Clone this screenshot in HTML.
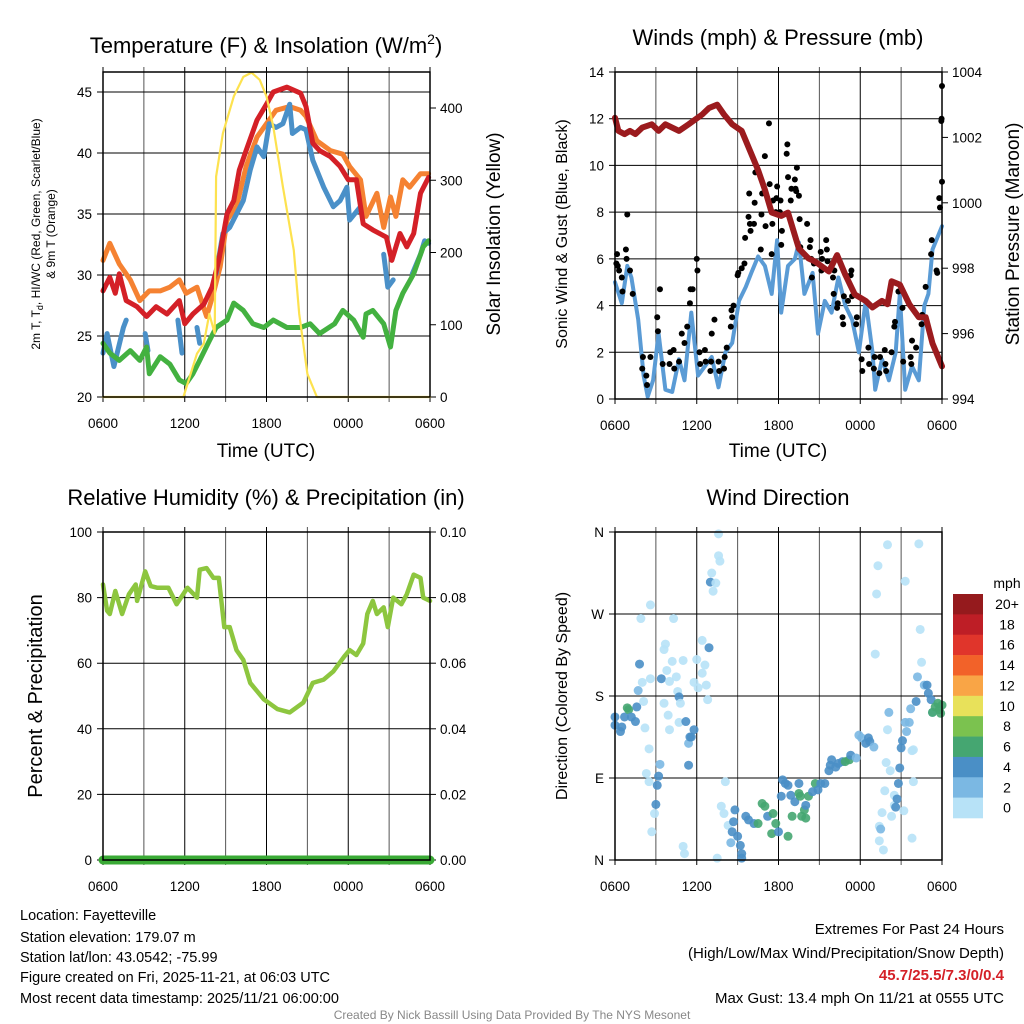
<!DOCTYPE html>
<html><head><meta charset="utf-8"><title>Mesonet Meteogram</title>
<style>
html,body{margin:0;padding:0;background:#fff;}
svg{display:block;font-family:"Liberation Sans",Arial,sans-serif;}
</style></head>
<body>
<svg id="chart" width="1024" height="1024" viewBox="0 0 1024 1024" xmlns="http://www.w3.org/2000/svg">
<rect width="1024" height="1024" fill="#fff"/>
<g id="p1"></g>
<g id="p2"></g>
<g id="p3"></g>
<g id="p4"></g>

<text x="266" y="53" font-size="22" text-anchor="middle">Temperature (F) &amp; Insolation (W/m<tspan dy="-9" font-size="14">2</tspan><tspan dy="9">)</tspan></text>
<text x="778" y="45" font-size="22" text-anchor="middle">Winds (mph) &amp; Pressure (mb)</text>
<text x="266" y="505" font-size="22" text-anchor="middle">Relative Humidity (%) &amp; Precipitation (in)</text>
<text x="778" y="505" font-size="22" text-anchor="middle">Wind Direction</text>

<text x="266" y="457" font-size="19" text-anchor="middle">Time (UTC)</text>
<text x="778" y="457" font-size="19" text-anchor="middle">Time (UTC)</text>

<text transform="translate(40,234) rotate(-90)" font-size="12" text-anchor="middle">2m T, T<tspan dy="3" font-size="9">d</tspan><tspan dy="-3">, HI/WC (Red, Green, Scarlet/Blue)</tspan></text>
<text transform="translate(55,234) rotate(-90)" font-size="12" text-anchor="middle">&amp; 9m T (Orange)</text>
<text transform="translate(500,234) rotate(-90)" font-size="19" text-anchor="middle">Solar Insolation (Yellow)</text>
<text transform="translate(567,234) rotate(-90)" font-size="16" text-anchor="middle">Sonic Wind &amp; Gust (Blue, Black)</text>
<text transform="translate(1019,234) rotate(-90)" font-size="19" text-anchor="middle">Station Pressure (Maroon)</text>
<text transform="translate(42,696) rotate(-90)" font-size="20" text-anchor="middle">Percent &amp; Precipitation</text>
<text transform="translate(567,696) rotate(-90)" font-size="16" text-anchor="middle">Direction (Colored By Speed)</text>

<g font-size="14.5">
<text x="20" y="920">Location: Fayetteville</text>
<text x="20" y="942">Station elevation: 179.07 m</text>
<text x="20" y="962">Station lat/lon: 43.0542; -75.99</text>
<text x="20" y="982">Figure created on Fri, 2025-11-21, at 06:03 UTC</text>
<text x="20" y="1003">Most recent data timestamp: 2025/11/21 06:00:00</text>
</g>
<g font-size="15" text-anchor="end">
<text x="1004" y="934">Extremes For Past 24 Hours</text>
<text x="1004" y="958">(High/Low/Max Wind/Precipitation/Snow Depth)</text>
<text x="1004" y="980" fill="#d42027" font-weight="bold">45.7/25.5/7.3/0/0.4</text>
<text x="1004" y="1003">Max Gust: 13.4 mph On 11/21 at 0555 UTC</text>
</g>
<text x="512" y="1019" font-size="12" fill="#888" text-anchor="middle">Created By Nick Bassill Using Data Provided By The NYS Mesonet</text>
</svg>
<script>
// ---- data (hours since 0600 UTC) ----
const xTickLabels = ["0600","1200","1800","0000","0600"];
const redT = [[0,28.7],[0.5,29.8],[0.9,28.5],[1.2,30.1],[1.7,27.9],[2.5,27.4],[3.2,26.6],[3.9,27.4],[4.7,26.8],[5.6,27.9],[6,26],[6.6,26.8],[7.4,27.6],[8,29],[8.5,31.2],[9.1,35],[9.6,36.1],[10,38.6],[10.5,40.2],[11.3,42.7],[12,44],[12.5,45],[13.5,45.4],[14.5,44.9],[14.9,43.8],[15.4,40.8],[15.9,40.2],[16.7,39.7],[17.4,38.9],[18,37.8],[18.6,37.8],[19.1,34.2],[19.8,33.7],[20.8,33.1],[21.2,31.2],[21.8,33.4],[22.3,32.3],[22.8,33.4],[23.3,36.7],[23.9,38]];
const orangeT = [[0,31.2],[0.5,32.6],[1.2,30.9],[2,29.6],[2.7,27.9],[3.4,28.7],[4.2,28.7],[4.9,29],[5.6,29.6],[6.1,28.5],[6.9,29],[7.6,26.6],[8.1,28.5],[8.6,30.7],[9.1,34.5],[9.8,35.6],[10.5,38.9],[11.3,41.3],[12,42.4],[12.7,43.5],[13.7,43.8],[14.5,43.5],[14.9,43],[15.7,41],[16.7,40.2],[17.6,39.9],[18.1,38.9],[18.9,37.8],[19.3,34.8],[20.1,36.7],[20.6,33.9],[21.1,36.4],[21.5,34.8],[22,37.8],[22.5,37.2],[23.3,38.3],[23.9,38.3]];
const blueT = [[0,23.6],[0.3,25.2],[0.8,22.5],[1.5,25.7],[1.7,26.3],null,[3.1,25.2],[3.3,23.8],null,[5.5,26.3],[5.8,23.6],null,[6.9,25.7],[7.1,24.4],null,[8.3,30.1],[8.8,33.4],[9.3,33.9],[9.8,35],[10.3,36.1],[10.8,38.6],[11.3,40.5],[11.8,39.7],[12.2,42.4],[12.7,42.1],[13.2,42.4],[13.7,44],[13.9,41.6],[14.5,42.1],[14.9,41.9],[15.4,39.4],[16.2,37.2],[16.9,35.6],[17.4,36.1],[17.9,37.2],[18.1,34.5],[18.9,35.6],null,[20.6,31.7],[20.9,29],[21.3,29.6],null,[22.7,30.1],[23.3,31.7],[23.6,32.8],[23.9,32.6]];
const greenTd = [[0,24.4],[0.5,23.6],[1.2,23],[2,23.8],[2.7,23],[3.2,24.1],[3.4,21.9],[4.2,23.3],[4.9,22.7],[5.6,21.4],[6.1,21.1],[6.6,21.9],[7.1,23],[7.8,24.6],[8.3,25.7],[9.1,26.3],[9.6,27.7],[10.3,27.1],[11,26],[11.8,25.7],[12.5,26.3],[13.5,25.7],[14.5,25.7],[15.2,26],[15.9,25.2],[17,26],[17.6,27.1],[18.4,26.3],[19.1,24.9],[19.3,26.8],[19.8,27.1],[20.6,26],[21.1,24.1],[21.5,27.1],[22,28.5],[22.8,30.1],[23.5,32.3],[23.9,32.8]];
const solar = [[0,0],[5.9,0],[6.9,60],[7.4,74],[7.8,115],[8.2,88],[8.3,305],[8.8,365],[9.6,416],[10.3,443],[10.9,449],[11.5,439],[12,416],[12.5,374],[13.2,291],[14,203],[14.4,115],[15,32],[15.7,0],[24,0]];
const tempTicks = [20,25,30,35,40,45];
const solarTicks = [0,100,200,300,400];

const windSpeed = [[0,5],[0.5,4.1],[0.9,5.7],[1.2,5.2],[1.7,3.4],[2.1,1],[2.4,0.1],[2.8,0.8],[3.2,2.8],[3.7,0.4],[4.2,0.3],[4.7,1.7],[5.1,0.8],[5.6,3.7],[6.1,1],[6.6,1.4],[7.1,1.8],[7.6,0.5],[8.1,2],[8.6,2.4],[9.1,4.2],[9.6,4.8],[10,5.4],[10.5,6.1],[11,5.7],[11.5,4.5],[11.9,6.8],[12.2,3.7],[12.7,5.7],[13.2,6],[13.5,6.7],[13.9,4.5],[14.5,5.4],[14.9,2.8],[15.4,4.2],[15.9,3.7],[16.4,5.2],[16.9,4],[17.4,3.4],[17.9,2],[18.4,4.2],[18.9,2],[19.1,0.4],[19.6,1.7],[20.1,0.8],[20.6,2],[20.9,4.5],[21.3,0.4],[21.8,1.4],[22.3,0.8],[22.7,4],[23,4.5],[23.3,6.4],[24,7.4]];
const gusts = [[0.1,5.8],[0.15,6.2],[0.2,5.7],[0.3,5.5],[0.5,5.2],[0.55,4.6],[0.9,7.9],[0.8,6.4],[0.85,6.0],[1.1,5.5],[1.3,4.5],[2,1.3],[2.05,1.8],[2.3,1.0],[2.35,0.6],[2.6,1.8],[3.1,3.5],[3.15,2.9],[3.3,4.7],[3.5,1.5],[4,1.5],[4.05,2],[4.3,2.1],[4.35,1.3],[4.7,1.6],[4.9,2.8],[5.1,2.4],[5.3,3.1],[5.5,4.1],[5.55,4.7],[5.7,4.7],[6.0,6.0],[6.05,5.5],[6.2,2],[6.25,1.5],[6.6,2.1],[6.65,1.6],[7,1.2],[7.05,1.6],[7.1,2.8],[7.3,3.4],[7.6,1.6],[7.65,1.2],[8,1.3],[8.05,1.8],[8.2,2.2],[8.5,3.1],[8.55,3.8],[8.6,3.5],[8.7,4.0],[9.0,5.3],[9.05,5.4],[9.3,5.6],[9.5,5.8],[9.55,6.9],[9.8,7.8],[9.85,8.8],[9.9,7.5],[9.95,7.2],[10.2,7.5],[10.25,8.4],[10.3,9.7],[10.7,6.4],[10.75,7.9],[10.8,8.8],[11,10.4],[11.05,7.4],[11.3,11.8],[11.35,9.2],[11.5,6.2],[11.55,7.5],[11.6,8.5],[11.8,8.0],[11.85,8.6],[11.9,9.1],[12.1,8.0],[12.15,8.5],[12.2,6.6],[12.25,7.2],[12.6,10.5],[12.65,10.9],[12.7,9.5],[12.9,8.5],[12.95,9.0],[13.2,9.4],[13.25,9.0],[13.3,8.9],[13.35,9.9],[13.5,8.7],[13.55,7.7],[13.6,6.5],[14.1,7.5],[14.3,6.5],[14.35,6.8],[14.4,6.0],[14.45,5.2],[14.6,5.8],[15.1,6.3],[15.15,5.5],[15.2,6.0],[15.5,6.8],[15.55,6.4],[15.6,5.9],[16,5.2],[16.05,4.5],[16.1,5.5],[16.3,3.9],[16.35,4.1],[16.7,3.5],[16.75,3.2],[16.8,4.4],[17.1,4.2],[17.3,5.3],[17.35,5.5],[17.4,4.4],[17.7,3.2],[17.75,3.5],[18.1,1.7],[18.15,1.2],[18.6,2.2],[18.65,1.5],[19,1.3],[19.05,1.8],[19.4,1.1],[19.45,1.8],[19.8,2.1],[19.85,1.5],[19.9,1.2],[20.3,2.0],[20.5,3.1],[20.55,3.3],[20.8,4.6],[21.1,3.9],[21.15,1.6],[21.7,1.8],[21.75,1.5],[21.8,2.5],[22.1,2.2],[22.5,3.2],[22.55,3.6],[22.8,4.8],[23.2,6.2],[23.25,6.8],[23.6,5.5],[23.65,5.4],[23.8,8.6],[23.85,8.2],[24,9.3],[23.95,11.9],[24,13.4],[23.97,12.0]];
const pressure = [[0,1002.6],[0.25,1002.2],[0.7,1002.1],[1.1,1002.2],[1.5,1002.1],[2,1002.3],[2.7,1002.4],[3.2,1002.2],[3.7,1002.4],[4.7,1002.2],[5.4,1002.4],[6.4,1002.7],[6.9,1002.9],[7.5,1003.0],[8,1002.7],[8.6,1002.4],[9.3,1002.2],[10,1001.5],[10.5,1001],[11,1000.4],[11.5,999.7],[12.2,999.6],[12.7,999.7],[13.5,998.6],[14.2,998.3],[14.7,998.2],[15.7,997.9],[16.3,998.4],[16.9,997.8],[17.6,997.2],[18.4,997.0],[18.9,996.8],[19.6,997],[20,996.9],[20.3,997.6],[20.9,997.5],[21.6,996.9],[22.3,996.5],[22.8,996.5],[23.3,995.7],[24,995]];
const windTicks = [0,2,4,6,8,10,12,14];
const pressTicks = [994,996,998,1000,1002,1004];

const rh = [[0,84],[0.3,76],[0.5,75],[0.9,82],[1.4,75],[1.9,81],[2.4,84],[2.5,79],[3.1,88],[3.5,83.5],[4,83],[4.8,83],[5.4,78],[6.2,83],[6.9,80],[7.1,88.5],[7.6,89],[8.1,86],[8.5,86],[8.9,71],[9.3,71],[9.8,64],[10.3,61],[10.8,54],[11.8,49],[12.8,46],[13.7,45],[14.7,48],[15.4,54],[16.2,55],[16.9,57.5],[17.7,62],[18.1,64],[18.6,62.5],[19.1,66],[19.4,75],[19.8,79],[20.1,75],[20.6,77],[20.9,71],[21.3,80],[21.9,78],[22.3,81],[22.8,87],[23.3,86],[23.5,80],[24,79]];
const precip = [[0,0],[24,0]];
const rhTicks = [0,20,40,60,80,100];
const precipTicks = ["0.00","0.02","0.04","0.06","0.08","0.10"];

// [hour, direction deg, speed class]
const dirObs = [[0,157,2],[0,148,2],[0.4,141,2],[0.5,146,2],[0.7,157,2],[0.9,167,3],[1,165,3],[1.2,157,2],[1.5,152,2],[1.6,168,2],[1.7,186,1],[1.8,215,2],[2,195,0],[1.9,265,0],[2.1,174,0],[2.2,145,0],[2.3,95,0],[2.5,86,0],[2.5,122,0],[2.6,199,0],[2.6,280,0],[2.7,31,0],[2.9,51,0],[3,61,2],[3.1,82,2],[3.2,92,2],[3.3,105,1],[3.4,199,2],[3.6,172,0],[3.6,231,0],[3.7,237,0],[3.8,208,0],[3.9,159,0],[4,196,0],[4,143,0],[4.2,218,0],[4.3,265,0],[4.5,201,0],[4.6,185,0],[4.7,179,2],[4.8,172,0],[4.7,151,0],[5,15,0],[5.1,7,0],[5,219,0],[5.2,152,2],[5.4,128,1],[5.5,135,2],[5.6,135,2],[5.8,143,2],[5.4,104,2],[5.8,195,0],[6,220,0],[6.1,189,0],[6.4,205,0],[6.4,241,0],[6.6,214,0],[6.7,192,0],[6.8,176,0],[6.9,233,2],[7,305,2],[7.1,315,0],[7.2,295,0],[7.4,304,0],[7.6,358,0],[7.6,334,0],[7.7,328,0],[7.5,2,0],[7.8,59,0],[8,51,0],[8.1,86,0],[8.3,38,0],[8.5,19,1],[8.6,31,2],[8.7,42,2],[8.8,55,2],[9,26,2],[9.2,16,2],[9.3,7,2],[9.3,2,2],[9.6,48,2],[9.8,44,2],[10.2,40,2],[10.5,40,3],[10.8,62,3],[11,59,3],[11.2,48,2],[11.5,29,3],[11.6,51,3],[11.8,40,3],[12,31,2],[12.2,70,2],[12.3,88,2],[12.5,84,2],[12.7,82,2],[12.7,26,3],[12.9,71,2],[13,48,3],[13.2,64,2],[13.5,84,2],[13.5,73,3],[13.6,70,3],[13.7,48,3],[13.9,55,3],[14,46,3],[14,60,2],[14.2,70,3],[14.5,75,2],[14.7,84,3],[14.9,77,2],[15.1,84,2],[15.4,84,2],[15.7,98,2],[15.8,104,2],[15.9,110,2],[16.2,102,2],[16.4,106,2],[16.7,108,2],[16.9,108,3],[17.2,110,3],[17.3,115,2],[17.7,112,1],[17.9,137,1],[18.1,134,1],[18.4,128,2],[18.6,134,2],[18.7,130,2],[19,124,1],[19.1,226,0],[19.2,292,0],[19.3,323,0],[19.4,37,0],[19.5,34,1],[19.6,52,0],[19.4,21,0],[19.7,11,0],[19.9,107,0],[20,346,0],[20,143,0],[20.1,162,1],[20.2,98,0],[19.8,76,0],[20.3,48,0],[20.5,60,0],[20.5,71,0],[20.6,58,2],[20.7,67,2],[20.8,84,2],[20.9,101,2],[21,123,2],[21.1,131,2],[21.2,54,0],[21.3,306,0],[21.3,151,1],[21.4,141,1],[21.6,151,1],[21.7,166,1],[21.8,120,0],[21.9,121,0],[21.8,24,0],[21.9,86,0],[22.1,174,2],[22.2,201,1],[22.3,347,0],[22.4,253,0],[22.5,217,0],[22.7,192,1],[22.9,192,2],[23,183,2],[23.2,176,2],[23.3,162,1],[23.5,168,3],[23.7,172,3],[23.8,165,3],[23.3,162,3],[23.9,161,3],[24,170,3]];
const dirTickLabels = ["N","E","S","W","N"];
const speedClassLabels = ["0","2","4","6","8","10","12","14","16","18","20+"];
const speedClassColors = ["#b7e2f7","#7bb8e3","#4a8fc6","#45a671","#7bc24f","#e8e15a","#f9a546","#f26229","#e0352b","#be1e26","#951a1d"];

// ---- helpers ----
const NS = "http://www.w3.org/2000/svg";
function el(parent, tag, attrs) {
  const e = document.createElementNS(NS, tag);
  for (const k in attrs) e.setAttribute(k, attrs[k]);
  parent.appendChild(e);
  return e;
}
function linScale(d0, d1, r0, r1) { return v => r0 + (v - d0) * (r1 - r0) / (d1 - d0); }
function pathFrom(data, sx, sy) {
  let d = "", pen = false;
  for (const p of data) {
    if (!p) { pen = false; continue; }
    d += (pen ? "L" : "M") + sx(p[0]).toFixed(1) + "," + sy(p[1]).toFixed(1);
    pen = true;
  }
  return d;
}
function frame(g, L, R, T, B, sx) {
  // vertical gridlines every 3h
  for (let h = 0; h <= 24; h += 3) {
    const x = sx(h);
    const ln = el(g, "line", {x1:x, y1:T-5, x2:x, y2:B+5, stroke:(h%6===0)?"#000":"#555", "stroke-width":1});
    
    
  }
  xTickLabels.forEach((lab, i) => {
    const t = el(g, "text", {x:sx(i*6), y:B+31, "font-size":13.5, "text-anchor":"middle"});
    t.textContent = lab;
    
    
  });
}
function border(g, L, R, T, B) {
  const r = el(g, "rect", {x:L, y:T, width:R-L, height:B-T, fill:"none", stroke:"#000", "stroke-width":1.5});
  
  
}
function hGrid(g, L, R, y, labelLeft, labelRight) {
  const ln = el(g, "line", {x1:L-6, y1:y, x2:R+ (labelRight!==null?6:0), y2:y, stroke:"#000", "stroke-width":1});
  
  
  if (labelLeft !== null) {
    const t = el(g, "text", {x:L-11, y:y+5, "font-size":13.5, "text-anchor":"end"});
    t.textContent = labelLeft;
    
    
  }
}
function rightLabel(g, R, y, lab) {
  const tk = el(g, "line", {x1:R, y1:y, x2:R+6, y2:y, stroke:"#000"});
  
  
  const t = el(g, "text", {x:R+10, y:y+5, "font-size":13.5});
  t.textContent = lab;
  
  
}
function line(g, data, sx, sy, color, w, name) {
  const p = el(g, "path", {d:pathFrom(data, sx, sy), fill:"none", stroke:color, "stroke-width":w, "stroke-linejoin":"round", "stroke-linecap":"round"});
  
  
  return p;
}

// ---- panel 1 ----
(function(){
  const g = document.getElementById("p1");
  const L=103, R=430, T=72, B=397;
  const sx = linScale(0, 24, L, R);
  const sy = linScale(20, 45, 397, 92);
  const sy2 = linScale(0, 400, 397, 108);
  frame(g, L, R, T, B, sx);
  tempTicks.forEach(v => hGrid(g, L, R, sy(v), String(v), null));
  solarTicks.forEach(v => rightLabel(g, R, sy2(v), String(v)));
  line(g, orangeT, sx, sy, "#f58232", 5, "9m-temperature-line");
  line(g, blueT, sx, sy, "#4a90c8", 5, "wind-chill-line");
  line(g, redT, sx, sy, "#d42027", 5, "2m-temperature-line");
  line(g, greenTd, sx, sy, "#43b140", 5, "dewpoint-line");
  line(g, solar, sx, sy2, "#fde24f", 2.2, "solar-insolation-line");
  border(g, L, R, T, B);
})();

// ---- panel 2 ----
(function(){
  const g = document.getElementById("p2");
  const L=615, R=942, T=72, B=399;
  const sx = linScale(0, 24, L, R);
  const sy = linScale(0, 14, 399, 72);
  const sy2 = linScale(994, 1004, 399, 72);
  frame(g, L, R, T, B, sx);
  windTicks.forEach(v => hGrid(g, L, R, sy(v), String(v), null));
  pressTicks.forEach(v => rightLabel(g, R, sy2(v), String(v)));
  line(g, windSpeed, sx, sy, "#5a9bd5", 4, "sonic-wind-line");
  gusts.forEach(p => {
    const c = el(g, "circle", {cx:sx(p[0]), cy:sy(p[1]), r:3, fill:"#000"});
    
    
  });
  line(g, pressure, sx, sy2, "#9b1b1e", 6, "pressure-line");
  border(g, L, R, T, B);
})();

// ---- panel 3 ----
(function(){
  const g = document.getElementById("p3");
  const L=103, R=430, T=532, B=860;
  const sx = linScale(0, 24, L, R);
  const sy = linScale(0, 100, 860, 532);
  frame(g, L, R, T, B, sx);
  rhTicks.forEach((v,i) => { hGrid(g, L, R, sy(v), String(v), null); rightLabel(g, R, sy(v), precipTicks[i]); });
  line(g, rh, sx, sy, "#8dc63f", 4.5, "relative-humidity-line");
  line(g, precip, sx, sy, "#3aaa35", 9, "precipitation-line");
  border(g, L, R, T, B);
})();

// ---- panel 4 ----
(function(){
  const g = document.getElementById("p4");
  const L=615, R=942, T=532, B=860;
  const sx = linScale(0, 24, L, R);
  const sy = linScale(0, 360, 860, 532);
  frame(g, L, R, T, B, sx);
  dirTickLabels.forEach((lab,i) => hGrid(g, L, R, sy(i*90), lab, null));
  dirObs.forEach(p => {
    const c = el(g, "circle", {cx:sx(p[0]), cy:sy(p[1]), r:4.5, fill:speedClassColors[p[2]], "fill-opacity":0.9});
    
    
  });
  border(g, L, R, T, B);
  // colorbar
  const cb = el(g, "g", {});
  
  
  const cbTop = 594, cbH = 224/11;
  const t0 = el(cb, "text", {x:1007, y:588, "font-size":14, "text-anchor":"middle"});
  t0.textContent = "mph";
  
  
  speedClassColors.slice().reverse().forEach((col, i) => {
    const r = el(cb, "rect", {x:953, y:cbTop+i*cbH, width:30, height:cbH+0.3, fill:col});
    
    
    const t = el(cb, "text", {x:1007, y:cbTop+i*cbH+15, "font-size":14, "text-anchor":"middle"});
    t.textContent = speedClassLabels[speedClassLabels.length-1-i];
    
    
  });
})();
</script>
</body></html>
